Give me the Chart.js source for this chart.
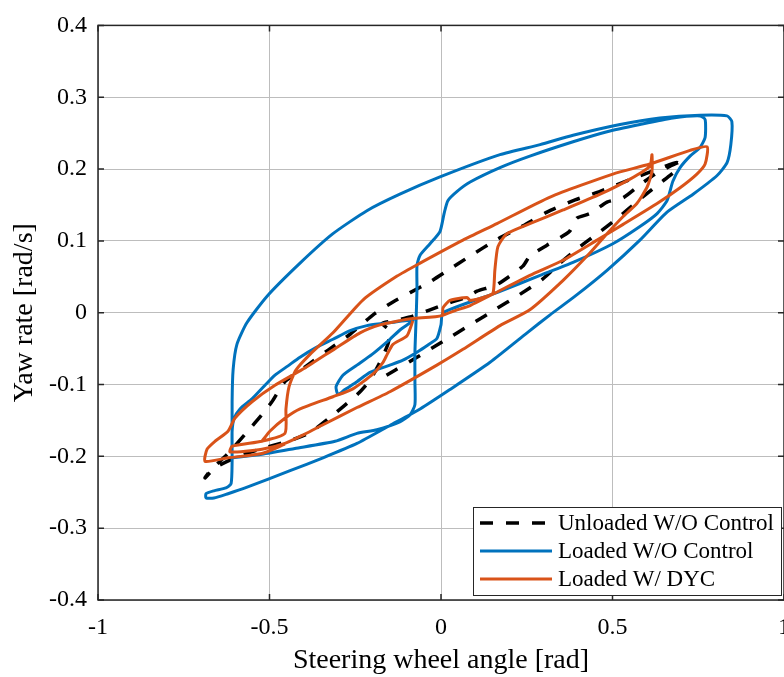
<!DOCTYPE html>
<html>
<head>
<meta charset="utf-8">
<script src="https://cdn.jsdelivr.net/npm/chart.js@4.4.1/dist/chart.umd.min.js"></script>
<style>
    html, body { margin: 0; padding: 0; overflow: hidden; background: #fff; }
    #contenedor { position: absolute; left: 0; top: 0; width: 800px; height: 677px; }
</style>
</head>
<body>
<div id="contenedor"><canvas id="grafica" width="800" height="677"></canvas></div>
<script>

// DATOS

const seriesLabels = ['Unloaded W/O Control', 'Loaded W/O Control', 'Loaded W/ DYC'];

const angleTicks = [-1, -0.5, 0, 0.5, 1];
const yawTicks = [-0.4, -0.3, -0.2, -0.1, 0, 0.1, 0.2, 0.3, 0.4];

// Unloaded W/O Control
const unloadedAngle = [
    0.691, 0.668, 0.624, 0.580, 0.531, 0.484, 0.434, 0.397, 0.385, 0.376,
    0.356, 0.309, 0.259, 0.239, 0.163, 0.105, 0.076, 0.026, -0.032, -0.090,
    -0.134, -0.172, -0.149, -0.155, -0.178, -0.207, -0.242, -0.286, -0.324, -0.382,
    -0.446, -0.528, -0.601, -0.659, -0.688,
    -0.673, -0.621, -0.571, -0.522, -0.493, -0.455, -0.397, -0.329, -0.265, -0.198,
    -0.140, -0.090, -0.032, 0.017, 0.085, 0.163, 0.239, 0.309, 0.391, 0.464,
    0.560, 0.638, 0.688,
    0.691, 0.662, 0.624, 0.580, 0.513, 0.464, 0.405, 0.347, 0.297, 0.222,
    0.163, 0.085, 0.006, -0.070, -0.134, -0.184
];
const unloadedYaw = [
    0.209, 0.204, 0.193, 0.178, 0.160, 0.154, 0.138, 0.132, 0.124, 0.114,
    0.107, 0.094, 0.079, 0.065, 0.039, 0.030, 0.022, 0.014, 0.004, -0.006,
    -0.011, -0.015, -0.025, -0.044, -0.069, -0.094, -0.113, -0.131, -0.146, -0.167,
    -0.179, -0.190, -0.202, -0.216, -0.230,
    -0.220, -0.196, -0.169, -0.142, -0.124, -0.096, -0.076, -0.052, -0.030, -0.003,
    0.015, 0.028, 0.043, 0.058, 0.079, 0.102, 0.121, 0.140, 0.157, 0.169,
    0.187, 0.201, 0.209,
    0.201, 0.189, 0.175, 0.158, 0.131, 0.113, 0.092, 0.069, 0.047, 0.023,
    0.006, -0.017, -0.040, -0.062, -0.080, -0.094
];

// Loaded W/O Control
const loadedAngle = [
    -0.609, -0.522, -0.426, -0.309, -0.245, -0.187, -0.120, -0.090, -0.076, -0.076,
    -0.076, -0.073, -0.070, -0.070, -0.061, -0.032, -0.003, 0.009, 0.020, 0.047,
    0.085, 0.172, 0.259, 0.385, 0.484, 0.580, 0.676, 0.755, 0.770, 0.770,
    0.755, 0.726, 0.697, 0.676, 0.659, 0.630, 0.580, 0.501, 0.385, 0.289,
    0.163, 0.006, 0.000, -0.012, -0.038, -0.070, -0.111, -0.149, -0.207, -0.245,
    -0.280, -0.300, -0.306, -0.286, -0.245, -0.201, -0.149, -0.117, -0.090, -0.082,
    -0.169, -0.216, -0.265, -0.315, -0.362, -0.411, -0.446, -0.484, -0.513, -0.551,
    -0.586, -0.603, -0.609, -0.609, -0.612, -0.627, -0.662, -0.685, -0.685, -0.662,
    -0.621, -0.571, -0.440, -0.344, -0.245, -0.149, -0.061, 0.026, 0.143, 0.251,
    0.318, 0.391, 0.484, 0.580, 0.659, 0.735, 0.805, 0.834, 0.845, 0.848,
    0.834, 0.755, 0.638, 0.522, 0.385, 0.289, 0.172, -0.003, -0.120, -0.216,
    -0.315, -0.411, -0.507, -0.566, -0.595, -0.606, -0.609, -0.609
];
const loadedYaw = [
    -0.202, -0.197, -0.189, -0.179, -0.168, -0.163, -0.152, -0.142, -0.128, -0.096,
    -0.055, -0.014, 0.032, 0.066, 0.080, 0.096, 0.113, 0.138, 0.156, 0.169,
    0.182, 0.202, 0.218, 0.238, 0.252, 0.262, 0.271, 0.274, 0.269, 0.244,
    0.230, 0.218, 0.202, 0.183, 0.156, 0.138, 0.120, 0.096, 0.070, 0.052,
    0.028, 0.000, -0.017, -0.036, -0.045, -0.055, -0.066, -0.073, -0.083, -0.096,
    -0.107, -0.114, -0.103, -0.087, -0.073, -0.058, -0.037, -0.023, -0.014, -0.010,
    -0.015, -0.018, -0.025, -0.037, -0.048, -0.062, -0.074, -0.087, -0.101, -0.120,
    -0.134, -0.147, -0.165, -0.207, -0.238, -0.244, -0.248, -0.252, -0.258, -0.258,
    -0.252, -0.244, -0.220, -0.202, -0.182, -0.157, -0.134, -0.107, -0.069, -0.028,
    -0.003, 0.023, 0.059, 0.101, 0.140, 0.165, 0.191, 0.209, 0.234, 0.266,
    0.274, 0.275, 0.271, 0.262, 0.247, 0.234, 0.220, 0.189, 0.165, 0.142,
    0.110, 0.069, 0.023, -0.014, -0.044, -0.079, -0.124, -0.202
];

// Loaded W/ DYC (null = corte de trazo)
const dycAngle = [
    0.003, 0.041, 0.085, 0.152, 0.259, 0.356, 0.455, 0.531, 0.630, 0.697,
    0.746, 0.770, 0.776, 0.726, 0.609, 0.501, 0.318, 0.163, 0.064, -0.061,
    -0.128, -0.227, -0.315, -0.382, -0.423, -0.443, -0.452, -0.455, -0.522, -0.609,
    -0.615, -0.522, -0.455, -0.397, -0.344, -0.245, -0.149, -0.012, 0.064, 0.172,
    0.259, 0.356, 0.434, 0.484, 0.531, 0.571, 0.601, 0.615, 0.615, 0.609,
    0.551, 0.464, 0.356, 0.259, 0.192, 0.166, 0.157, 0.152, 0.134, 0.085,
    0.076, 0.026, 0.006, 0.003, -0.082, -0.120, -0.178, -0.236, -0.309, -0.397,
    -0.484, -0.551, -0.601, -0.621, -0.659, -0.682, -0.688, -0.621, -0.522, -0.455,
    null,
    -0.082, -0.099, -0.140, -0.157, -0.169, -0.198, -0.257, -0.315, -0.411, -0.455,
    -0.499, -0.522
];
const dycYaw = [
    -0.004, 0.003, 0.010, 0.026, 0.052, 0.073, 0.101, 0.123, 0.152, 0.174,
    0.193, 0.207, 0.231, 0.226, 0.207, 0.193, 0.161, 0.124, 0.101, 0.069,
    0.051, 0.018, -0.028, -0.058, -0.080, -0.103, -0.134, -0.168, -0.179, -0.186,
    -0.194, -0.190, -0.182, -0.169, -0.156, -0.132, -0.110, -0.073, -0.051, -0.018,
    0.004, 0.045, 0.083, 0.110, 0.134, 0.152, 0.175, 0.197, 0.220, 0.204,
    0.186, 0.165, 0.143, 0.124, 0.110, 0.092, 0.059, 0.028, 0.023, 0.017,
    0.021, 0.017, 0.007, -0.004, -0.008, -0.011, -0.017, -0.028, -0.050, -0.077,
    -0.101, -0.124, -0.147, -0.165, -0.179, -0.190, -0.207, -0.202, -0.196, -0.183,
    null,
    -0.011, -0.032, -0.044, -0.058, -0.069, -0.085, -0.106, -0.117, -0.134, -0.147,
    -0.165, -0.179
];



// ESTILO

const fuente = '"Liberation Serif", "Times New Roman", serif';
const colorEjes = '#262626';

function puntos(angulos, yaws) {
    return angulos.map((x, i) => ({ x: x, y: yaws[i] }));
}



// PLUGINS

// Caja de ejes y marcas hacia dentro (estilo MATLAB)
const cajaEjes = {
    id: 'cajaEjes',
    afterDatasetsDraw(chart) {
        const { ctx, chartArea: a, scales } = chart;
        ctx.save();
        ctx.strokeStyle = colorEjes;
        ctx.lineWidth = 1.5;
        ctx.strokeRect(a.left, a.top, a.right - a.left, a.bottom - a.top);
        ctx.beginPath();
        scales.x.ticks.forEach(t => {
            const px = scales.x.getPixelForValue(t.value);
            ctx.moveTo(px, a.bottom); ctx.lineTo(px, a.bottom - 6);
            ctx.moveTo(px, a.top); ctx.lineTo(px, a.top + 6);
        });
        scales.y.ticks.forEach(t => {
            const py = scales.y.getPixelForValue(t.value);
            ctx.moveTo(a.left, py); ctx.lineTo(a.left + 6, py);
            ctx.moveTo(a.right, py); ctx.lineTo(a.right - 6, py);
        });
        ctx.stroke();
        ctx.restore();
    }
};

// Leyenda dentro del área, abajo a la derecha
const leyendaInterna = {
    id: 'leyendaInterna',
    afterDraw(chart) {
        const { ctx, chartArea: a } = chart;
        const w = 308, h = 88;
        const x0 = a.right - 3 - w, y0 = a.bottom - 5 - h;
        ctx.save();
        ctx.fillStyle = '#fff';
        ctx.fillRect(x0, y0, w, h);
        ctx.strokeStyle = colorEjes;
        ctx.lineWidth = 1;
        ctx.strokeRect(x0 + 0.5, y0 + 0.5, w, h);
        ctx.font = '23px ' + fuente;
        ctx.textBaseline = 'middle';
        ctx.textAlign = 'left';
        chart.data.datasets.forEach((ds, i) => {
            const y = y0 + 16 + i * 28;
            ctx.beginPath();
            ctx.strokeStyle = ds.borderColor;
            ctx.lineWidth = ds.borderWidth;
            ctx.setLineDash(ds.borderDash || []);
            ctx.moveTo(x0 + 7, y);
            ctx.lineTo(x0 + 79, y);
            ctx.stroke();
            ctx.setLineDash([]);
            ctx.fillStyle = '#000';
            ctx.fillText(ds.label, x0 + 85, y + 1);
        });
        ctx.restore();
    }
};



// GRAFICA

const ctx = document.getElementById('grafica').getContext('2d');

new Chart(ctx, {
    type: 'scatter',
    data: {
        datasets: [
            {
                label: seriesLabels[0],
                data: puntos(unloadedAngle, unloadedYaw),
                borderColor: '#000000',
                borderWidth: 3.5,
                borderDash: [13, 13],
                order: 3
            },
            {
                label: seriesLabels[1],
                data: puntos(loadedAngle, loadedYaw),
                borderColor: '#0072BD',
                borderWidth: 3,
                order: 2
            },
            {
                label: seriesLabels[2],
                data: puntos(dycAngle, dycYaw),
                borderColor: '#D95319',
                borderWidth: 3,
                order: 1
            }
        ]
    },
    options: {
        responsive: false,
        animation: false,
        devicePixelRatio: 1,
        showLine: true,
        spanGaps: false,
        elements: {
            point: { radius: 0, hoverRadius: 0 },
            line: { tension: 0.2, borderJoinStyle: 'round', borderCapStyle: 'butt', fill: false }
        },
        layout: { padding: { top: 20, right: 16, bottom: 0, left: 0 } },
        plugins: {
            legend: { display: false },
            tooltip: { enabled: false }
        },
        scales: {
            x: {
                type: 'linear',
                min: -1,
                max: 1,
                afterBuildTicks: (scale) => { scale.ticks = angleTicks.map(v => ({ value: v })); },
                afterFit: (scale) => {
                    scale.height = 77;
                    // la etiqueta "1" queda cortada por el borde, como en el original
                    scale.paddingRight = 0;
                },
                grid: { color: '#bdbdbd', lineWidth: 1, drawTicks: false },
                border: { display: false },
                ticks: {
                    autoSkip: false,
                    maxRotation: 0,
                    padding: 13,
                    color: '#000',
                    font: { family: fuente, size: 24 },
                    callback: (v) => String(Math.round(v * 10) / 10)
                },
                title: {
                    display: true,
                    text: 'Steering wheel angle [rad]',
                    color: '#000',
                    font: { family: fuente, size: 28 },
                    padding: { top: 0, bottom: 0 }
                }
            },
            y: {
                type: 'linear',
                min: -0.4,
                max: 0.4,
                afterBuildTicks: (scale) => { scale.ticks = yawTicks.map(v => ({ value: v })); },
                afterFit: (scale) => { scale.width = 98; },
                grid: { color: '#bdbdbd', lineWidth: 1, drawTicks: false },
                border: { display: false },
                ticks: {
                    autoSkip: false,
                    padding: 11,
                    color: '#000',
                    font: { family: fuente, size: 24 },
                    callback: (v) => String(Math.round(v * 10) / 10)
                },
                title: {
                    display: true,
                    text: 'Yaw rate [rad/s]',
                    color: '#000',
                    font: { family: fuente, size: 28 },
                    padding: { top: 8, bottom: 0 }
                }
            }
        }
    },
    plugins: [cajaEjes, leyendaInterna]
});

</script>
</body>
</html>
